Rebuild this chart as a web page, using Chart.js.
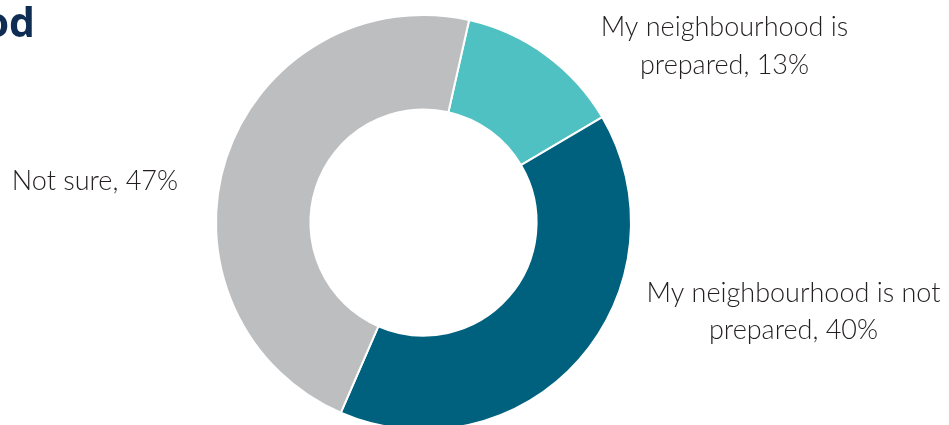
<!DOCTYPE html>
<html>
<head>
<meta charset="utf-8">
<script src="https://cdn.jsdelivr.net/npm/chart.js@4"></script>
<style>
  html, body { margin: 0; padding: 0; background: #fff; overflow: hidden; }
  #wrap { position: relative; width: 949px; height: 440px; }
</style>
</head>
<body>
<div id="wrap"><canvas id="donutChart"></canvas></div>
<script>
  const categories = ["My neighbourhood is prepared", "My neighbourhood is not prepared", "Not sure"];
  const shares = [13, 40, 47];
  const titleText = "od"; // title is cut off at the left edge of the picture

  const SLICE_COLORS = ["#4FC1C2", "#00617F", "#BDBEC0"];
  const LABEL_FONT = '300 27px "Lato", sans-serif';
  const TITLE_FONT = 'bold 41px "Open Sans", sans-serif';

  // label anchors relative to the doughnut centre (dx, baseline dy, align)
  const labelAnchors = [
    { dx: 301, dy: -186.5, align: "center" },
    { dx: 370, dy: 79, align: "center" },
    { dx: -245.5, dy: -33, align: "right" },
  ];

  const labelLines = categories.map((c, i) =>
    `${c}, ${shares[i]}%`.replace(" prepared", "\nprepared").split("\n")
  );

  const outsideLabels = {
    id: "outsideLabels",
    afterDraw(chart) {
      const ctx = chart.ctx;
      const arc = chart.getDatasetMeta(0).data[0];
      const cx = arc.x;
      const cy = arc.y;
      ctx.save();
      ctx.fillStyle = "#231F20";
      ctx.font = LABEL_FONT;
      ctx.textBaseline = "alphabetic";
      labelLines.forEach((lines, i) => {
        const a = labelAnchors[i];
        ctx.textAlign = a.align;
        lines.forEach((line, j) => {
          ctx.fillText(line, cx + a.dx, cy + a.dy + j * 37.5);
        });
      });
      ctx.font = TITLE_FONT;
      ctx.fillStyle = "#0F2D52";
      ctx.textAlign = "right";
      ctx.fillText(titleText, 35, 37);
      ctx.restore();
    },
  };

  function render() {
    const ctx = document.getElementById("donutChart").getContext("2d");
    new Chart(ctx, {
      type: "doughnut",
      data: {
        labels: categories,
        datasets: [
          {
            data: shares,
            backgroundColor: SLICE_COLORS,
            borderColor: "#ffffff",
            borderWidth: 2,
          },
        ],
      },
      options: {
        responsive: true,
        maintainAspectRatio: false,
        animation: false,
        rotation: 12.7,
        cutout: "54.5%",
        layout: {
          padding: { top: 14, bottom: 9, left: 215, right: 317 },
        },
        plugins: {
          legend: { display: false },
          tooltip: { enabled: false },
        },
      },
      plugins: [outsideLabels],
    });
  }

  render();
</script>
</body>
</html>
